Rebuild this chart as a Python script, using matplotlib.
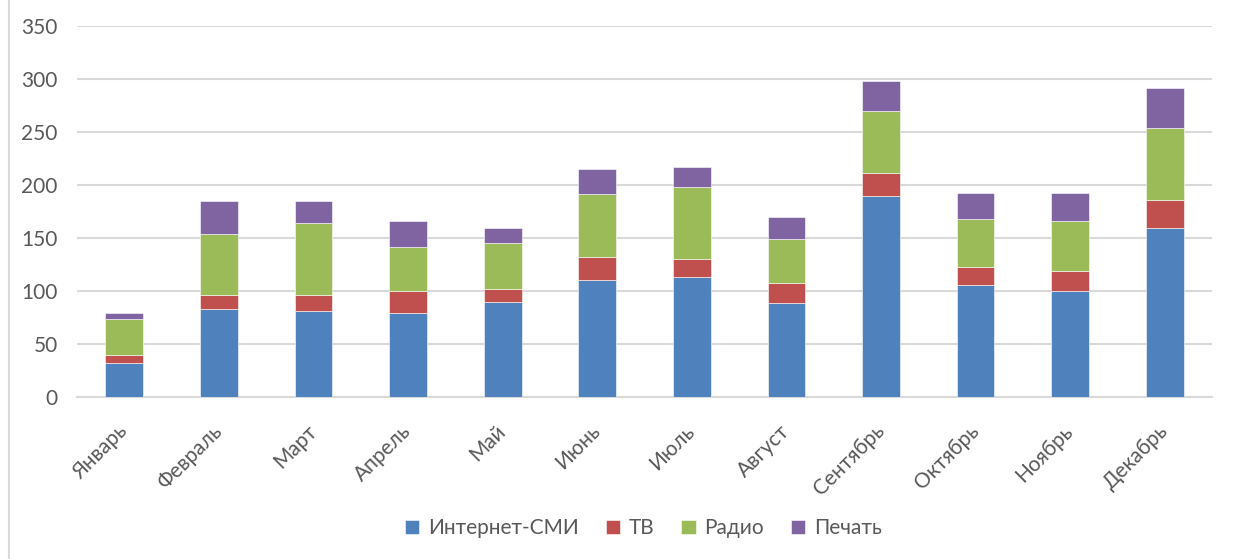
import matplotlib
matplotlib.use('Agg')

import matplotlib.pyplot as plt
import numpy as np
from matplotlib.lines import Line2D

months = ["Январь", "Февраль", "Март", "Апрель", "Май", "Июнь",
          "Июль", "Август", "Сентябрь", "Октябрь", "Ноябрь", "Декабрь"]

internet = [32, 83, 81, 79, 90, 111, 113, 89, 190, 106, 100, 160]
tv = [8, 13, 15, 21, 12, 21, 17, 19, 21, 17, 19, 26]
radio = [34, 58, 68, 42, 43, 60, 68, 41, 59, 45, 47, 68]
press = [5, 31, 21, 24, 15, 23, 19, 21, 28, 25, 27, 38]

series_names = ["Интернет-СМИ", "ТВ", "Радио", "Печать"]
colors = ["#4f81bd", "#c0504d", "#9bbb59", "#8064a2"]

plt.rcParams['font.family'] = ['Lato', 'DejaVu Sans']
text_color = '#595959'
grid_color = '#d9d9d9'

fig = plt.figure(figsize=(12.49, 5.59), dpi=100)
ax = fig.add_axes([0.0617, 0.2893, 0.9087, 0.6642])

x = np.arange(len(months))
bottom = np.zeros(len(months))
for name, values, color in zip(series_names, [internet, tv, radio, press], colors):
    ax.bar(x, values, width=0.4, bottom=bottom, color=color, label=name,
           edgecolor='white', linewidth=0.4, zorder=3)
    bottom += np.array(values)

ax.set_xlim(-0.5, len(months) - 0.5)
ax.set_ylim(0, 350)
ax.set_yticks(np.arange(0, 351, 50))
ax.yaxis.grid(True, color=grid_color, linewidth=1.5, zorder=0)

for side in ['top', 'right', 'left']:
    ax.spines[side].set_visible(False)
ax.spines['bottom'].set_color(grid_color)
ax.spines['bottom'].set_linewidth(1.5)

ax.tick_params(axis='both', length=0, colors=text_color, labelsize=15)
ax.tick_params(axis='y', pad=14)
ax.set_xticks(x)
ax.set_xticklabels(months, rotation=45, ha='right', va='center',
                   rotation_mode='anchor')
ax.tick_params(axis='x', pad=22)

# Chart border on the left edge
fig.add_artist(Line2D([9 / 1249, 9 / 1249], [0, 1], color=grid_color,
                      linewidth=1.5, transform=fig.transFigure))

handles, labels = ax.get_legend_handles_labels()
leg = fig.legend(handles, labels, loc='center', bbox_to_anchor=(0.515, 0.055),
                 ncol=4, frameon=False, fontsize=15, handlelength=0.7,
                 handleheight=0.7, handletextpad=0.4, columnspacing=1.3)
for t in leg.get_texts():
    t.set_color(text_color)

fig.savefig("out.png", dpi=100)
plt.close(fig)
